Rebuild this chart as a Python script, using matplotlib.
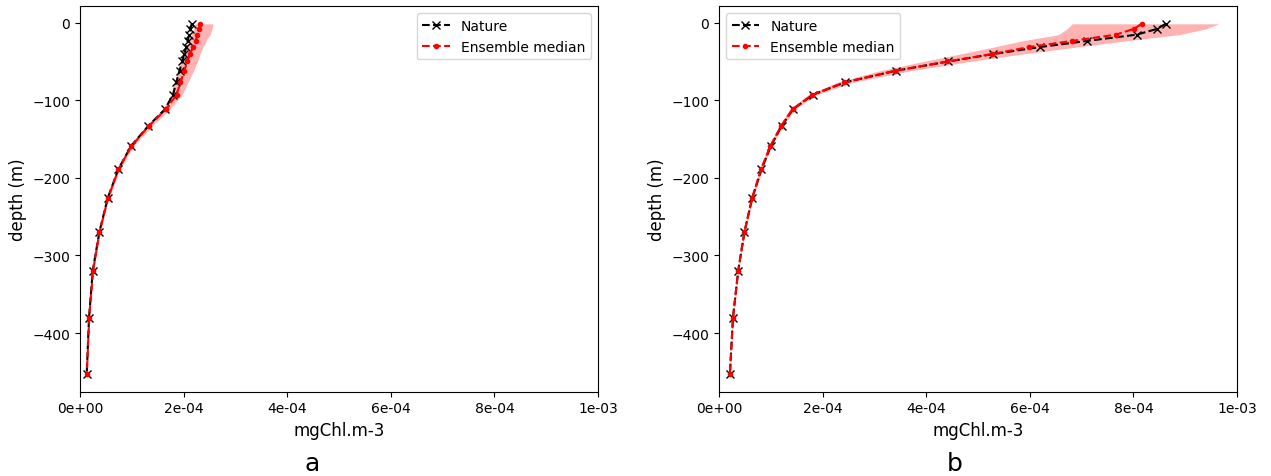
import numpy as np
import matplotlib
matplotlib.use("Agg")
import matplotlib.pyplot as plt

# ---------------------------------------------------------------------------
# Data, chlorophyll in mgChl.m-3
# ---------------------------------------------------------------------------
depth = [-1.5, -8, -15.5, -23.5, -31.5, -40.5, -50, -62, -77, -93,
         -111.5, -133, -159, -189, -226, -270, -320, -380, -453]

# panel a
nature_a = [2.156, 2.133, 2.108, 2.079, 2.050, 2.012, 1.973, 1.921, 1.857, 1.795,
            1.641, 1.319, 0.985, 0.739, 0.535, 0.373, 0.245, 0.174, 0.129]
median_a = [2.317, 2.297, 2.268, 2.230, 2.181, 2.124, 2.071, 2.013, 1.940, 1.863,
            1.660, 1.332, 0.994, 0.743, 0.541, 0.376, 0.251, 0.178, 0.131]
low_a = [2.220, 2.191, 2.153, 2.104, 2.056, 1.998, 1.950, 1.892, 1.824, 1.757,
         1.593, 1.274, 0.956, 0.714, 0.521, 0.363, 0.237, 0.168, 0.124]
high_a = [2.568, 2.548, 2.510, 2.432, 2.375, 2.317, 2.268, 2.191, 2.085, 1.969,
          1.737, 1.390, 1.033, 0.772, 0.560, 0.392, 0.264, 0.187, 0.139]

# panel b
nature_b = [8.62, 8.46, 8.06, 7.11, 6.19, 5.29, 4.43, 3.41, 2.43, 1.81,
            1.43, 1.21, 1.00, 0.82, 0.64, 0.49, 0.37, 0.27, 0.21]
median_b = [8.16, 8.01, 7.66, 6.82, 5.98, 5.27, 4.41, 3.40, 2.42, 1.80,
            1.42, 1.20, 0.99, 0.81, 0.64, 0.49, 0.37, 0.27, 0.21]
low_b = [6.82, 6.72, 6.55, 5.85, 5.30, 4.65, 3.95, 3.10, 2.28, 1.72,
         1.37, 1.16, 0.96, 0.79, 0.62, 0.48, 0.36, 0.265, 0.205]
high_b = [9.65, 9.40, 8.88, 7.85, 6.90, 5.85, 4.85, 3.70, 2.58, 1.89,
          1.47, 1.24, 1.02, 0.84, 0.66, 0.50, 0.38, 0.275, 0.215]

SCALE = 1e-4
xticks = [0, 2e-4, 4e-4, 6e-4, 8e-4, 1e-3]
xticklabels = ["0e+00", "2e-04", "4e-04", "6e-04", "8e-04", "1e-03"]

# ---------------------------------------------------------------------------
# Figure
# ---------------------------------------------------------------------------
W, H = 1271, 477
fig = plt.figure(figsize=(W / 100, H / 100), dpi=100)

panels = [
    ("a", nature_a, median_a, low_a, high_a, 80, 312, "upper right"),
    ("b", nature_b, median_b, low_b, high_b, 719, 955, "upper left"),
]

for tag, nat, med, lo, hi, x0, xtag, loc in panels:
    ax = fig.add_axes([x0 / W, 1 - 392.7 / H, 518 / W, (392.7 - 7.3) / H])
    d = np.array(depth)
    ax.fill_betweenx(d, np.array(lo) * SCALE, np.array(hi) * SCALE,
                     color="red", alpha=0.3, linewidth=0)
    ax.plot(np.array(nat) * SCALE, d, "k--x", label="Nature")
    ax.plot(np.array(med) * SCALE, d, "r--.", label="Ensemble median")
    ax.set_xlim(0, 1e-3)
    ax.set_xticks(xticks)
    ax.set_xticklabels(xticklabels)
    ax.set_yticks([0, -100, -200, -300, -400])
    ax.tick_params(labelsize=10)
    ax.set_xlabel("mgChl.m-3", fontsize=12)
    ax.set_ylabel("depth (m)", fontsize=12)
    ax.legend(loc=loc, fontsize=10)
    fig.text(xtag / W, 1 - 464 / H, tag, fontsize=18,
             ha="center", va="center")

fig.savefig("out.png", dpi=100)
